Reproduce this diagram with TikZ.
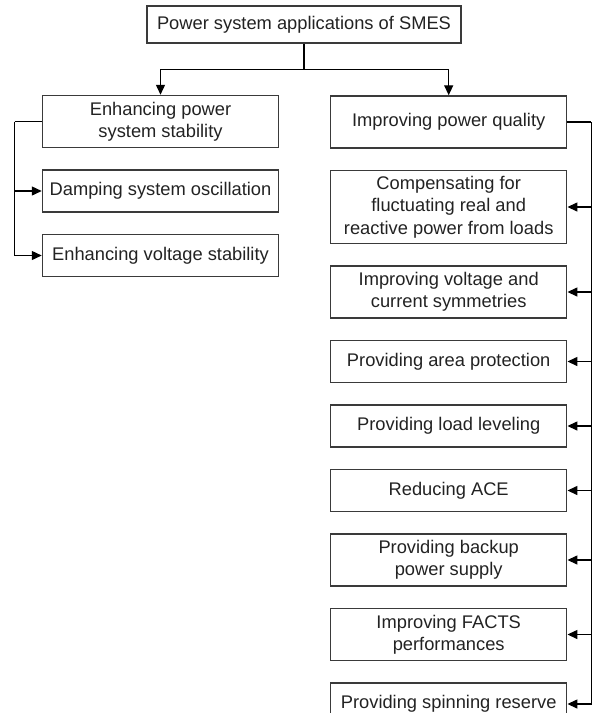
\documentclass[tikz,border=0pt]{standalone}
\usepackage{fontspec}
\setmainfont{Liberation Sans}
\usetikzlibrary{positioning,arrows.meta}
\definecolor{boxgray}{HTML}{3A3A3A}
\definecolor{textgray}{HTML}{222222}
\begin{document}
\begin{tikzpicture}[x=1pt, y=-1pt, >={Triangle[length=10pt,width=9pt]},
        appbox/.style={draw=boxgray, line width=1.5pt, text=textgray, align=center,
            inner sep=0pt, minimum width=236pt, minimum height=42pt,
            font=\fontsize{18.3}{22.3}\selectfont},
        twoline/.style={appbox, minimum height=52pt},
        threeline/.style={appbox, minimum height=73pt},
        link/.style={line width=1.4pt}]
            % Page size of the reference
            \useasboundingbox (0,0) rectangle (592,713);
            \clip (0,0) rectangle (592,712);

            % Root
            \node[appbox, minimum width=314pt, minimum height=37pt] (root) at (304,24.5) {Power system applications of SMES};

            % The two branches
            \node[twoline] (stab) at (160.5,121.5) {Enhancing power\\system stability};
            \node[twoline] (qual) at (448.7,122) {Improving power quality};

            % Left column
            \node[appbox, below=21pt of stab] (damp) {Damping system oscillation};
            \node[appbox, below=21pt of damp] (volt) {Enhancing voltage stability};

            % Right column
            \node[threeline, below=21pt of qual] (comp) {Compensating for\\fluctuating real and\\reactive power from loads};
            \node[twoline, below=21pt of comp] (symm) {Improving voltage and\\current symmetries};
            \node[appbox, below=21pt of symm] (area) {Providing area protection};
            \node[appbox, below=21pt of area] (load) {Providing load leveling};
            \node[appbox, below=21pt of load] (ace) {Reducing ACE};
            \node[twoline, below=21pt of ace] (backup) {Providing backup\\power supply};
            \node[twoline, below=21pt of backup] (facts) {Improving FACTS\\performances};
            \node[appbox, below=21pt of facts] (spin) {Providing spinning reserve};

            % Root to branches
            \draw[link, ->] (root.south) -- ++(0,26) -| (stab.north);
            \draw[link, ->] (root.south) -- ++(0,26) -| (qual.north);

            % Left bus
            \draw[link] (stab.west) -- ++(-27,0) coordinate (lbus);
            \foreach \n in {damp,volt}
                \draw[link, ->] (lbus) |- (\n.west);

            % Right bus
            \draw[link] (qual.east) -- ++(24,0) coordinate (rbus);
            \foreach \n in {comp,symm,area,load,ace,backup,facts,spin}
                \draw[link, ->] (rbus) |- (\n.east);
        \end{tikzpicture}
\end{document}
